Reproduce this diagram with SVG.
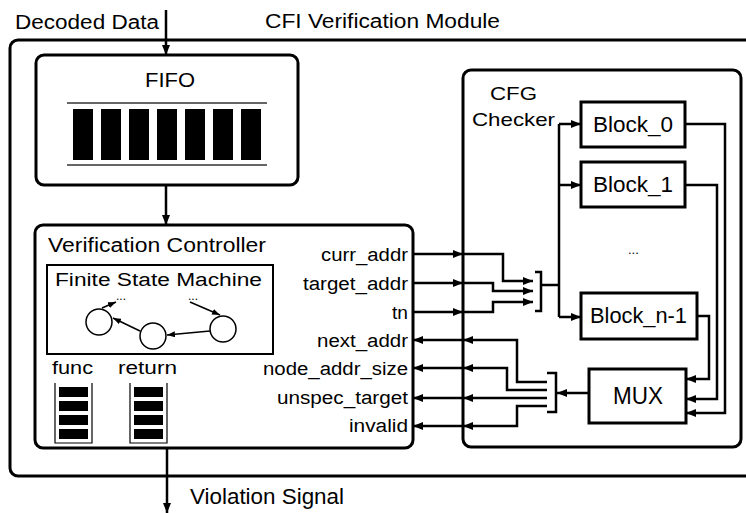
<svg xmlns="http://www.w3.org/2000/svg" width="746" height="513" viewBox="0 0 746 513" font-family="'Liberation Sans', Arial, Helvetica, sans-serif">
  <style>
    text { font-family: "Liberation Sans", Arial, Helvetica, sans-serif; fill: #000; }
    .box { fill: #fff; stroke: #000; stroke-width: 3; }
    .thin { fill: none; stroke: #000; stroke-width: 1.2; }
    .wire { fill: none; stroke: #000; stroke-width: 2.5; }
    .fsm { fill: none; stroke: #000; stroke-width: 1.5; }
    .bar { fill: #000; }
  </style>
  <defs>
    <marker id="arrow" viewBox="0 0 10 8" refX="10" refY="4" markerWidth="10" markerHeight="8" markerUnits="userSpaceOnUse" orient="auto">
      <path d="M0,0 L10,4 L0,8 Z" fill="#000"/>
    </marker>
    <marker id="arrowSmall" viewBox="0 0 8 6" refX="8" refY="3" markerWidth="8" markerHeight="6" markerUnits="userSpaceOnUse" orient="auto">
      <path d="M0,0 L8,3 L0,6 Z" fill="#000"/>
    </marker>
  </defs>

  <!-- CFI Verification Module (outer frame) -->
  <g id="module">
    <rect class="box" x="10" y="40" width="760" height="436" rx="8"/>
    <text x="265" y="28" font-size="20" textLength="235" lengthAdjust="spacingAndGlyphs">CFI Verification Module</text>
  </g>

  <text id="decoded-label" x="15" y="29" font-size="20" textLength="144" lengthAdjust="spacingAndGlyphs">Decoded Data</text>
  <text id="violation-label" x="190" y="504" font-size="22" textLength="154" lengthAdjust="spacingAndGlyphs">Violation Signal</text>

  <!-- FIFO -->
  <g id="fifo">
    <rect class="box" x="36" y="55" width="262" height="130" rx="8"/>
    <text x="145" y="87" font-size="20" textLength="50" lengthAdjust="spacingAndGlyphs">FIFO</text>
    <line x1="67" y1="103" x2="267" y2="103" stroke="#333" stroke-width="1.5"/>
    <line x1="67" y1="165" x2="267" y2="165" stroke="#333" stroke-width="1.5"/>
    <rect class="bar" x="73" y="109" width="20" height="51"/>
    <rect class="bar" x="101" y="109" width="20" height="51"/>
    <rect class="bar" x="129" y="109" width="20" height="51"/>
    <rect class="bar" x="157" y="109" width="20" height="51"/>
    <rect class="bar" x="185" y="109" width="20" height="51"/>
    <rect class="bar" x="213" y="109" width="20" height="51"/>
    <rect class="bar" x="241" y="109" width="20" height="51"/>
  </g>

  <!-- Verification Controller -->
  <g id="controller">
    <rect class="box" x="35" y="225" width="378" height="223" rx="8"/>
    <text x="48" y="252" font-size="20" textLength="218" lengthAdjust="spacingAndGlyphs">Verification Controller</text>
    <text x="321" y="261" font-size="18" textLength="87" lengthAdjust="spacingAndGlyphs">curr_addr</text>
    <text x="303" y="290" font-size="18" textLength="105" lengthAdjust="spacingAndGlyphs">target_addr</text>
    <text x="392" y="319" font-size="18" textLength="16" lengthAdjust="spacingAndGlyphs">tn</text>
    <text x="317" y="347" font-size="18" textLength="91" lengthAdjust="spacingAndGlyphs">next_addr</text>
    <text x="263" y="375" font-size="18" textLength="145" lengthAdjust="spacingAndGlyphs">node_addr_size</text>
    <text x="277" y="404" font-size="18" textLength="131" lengthAdjust="spacingAndGlyphs">unspec_target</text>
    <text x="349" y="432" font-size="18" textLength="59" lengthAdjust="spacingAndGlyphs">invalid</text>
  </g>

  <!-- Finite State Machine -->
  <g id="fsm">
    <rect x="47" y="265" width="226" height="89" fill="#fff" stroke="#000" stroke-width="2"/>
    <text x="55" y="286" font-size="18" textLength="207" lengthAdjust="spacingAndGlyphs">Finite State Machine</text>
    <circle class="fsm" cx="99" cy="322" r="13"/>
    <circle class="fsm" cx="153" cy="336" r="13"/>
    <circle class="fsm" cx="223" cy="329" r="13"/>
    <text x="116" y="300" font-size="12">...</text>
    <text x="188" y="300" font-size="12">...</text>
    <path class="fsm" d="M210,331 L167,335" marker-end="url(#arrowSmall)"/>
    <path class="fsm" d="M140,331 L113,318" marker-end="url(#arrowSmall)"/>
    <path class="fsm" d="M102,308 L116,302" marker-end="url(#arrowSmall)"/>
    <path class="fsm" d="M190,302 L220,315" marker-end="url(#arrowSmall)"/>
  </g>

  <!-- func / return stacks -->
  <g id="func-stack">
    <text x="52" y="374" font-size="18" textLength="41" lengthAdjust="spacingAndGlyphs">func</text>
    <path class="thin" d="M55,383 V443 H92 V383"/>
    <rect class="bar" x="59" y="387" width="29" height="10"/>
    <rect class="bar" x="59" y="401" width="29" height="10"/>
    <rect class="bar" x="59" y="415" width="29" height="10"/>
    <rect class="bar" x="59" y="429" width="29" height="10"/>
  </g>
  <g id="return-stack">
    <text x="118" y="374" font-size="18" textLength="59" lengthAdjust="spacingAndGlyphs">return</text>
    <path class="thin" d="M130,383 V443 H167 V383"/>
    <rect class="bar" x="134" y="387" width="29" height="10"/>
    <rect class="bar" x="134" y="401" width="29" height="10"/>
    <rect class="bar" x="134" y="415" width="29" height="10"/>
    <rect class="bar" x="134" y="429" width="29" height="10"/>
  </g>

  <!-- CFG Checker -->
  <g id="cfg-checker">
    <rect class="box" x="463" y="70" width="278" height="377" rx="8"/>
    <text x="490" y="100" font-size="19" textLength="47" lengthAdjust="spacingAndGlyphs">CFG</text>
    <text x="472" y="126" font-size="19" textLength="83" lengthAdjust="spacingAndGlyphs">Checker</text>
    <text x="628" y="254" font-size="13">...</text>
  </g>
  <g id="block0">
    <rect class="box" x="581" y="102" width="104" height="45"/>
    <text x="593" y="132" font-size="22" textLength="80" lengthAdjust="spacingAndGlyphs">Block_0</text>
  </g>
  <g id="block1">
    <rect class="box" x="581" y="162" width="104" height="45"/>
    <text x="593" y="192" font-size="22" textLength="80" lengthAdjust="spacingAndGlyphs">Block_1</text>
  </g>
  <g id="blockn1">
    <rect class="box" x="581" y="293" width="116" height="46"/>
    <text x="590" y="323" font-size="22" textLength="97" lengthAdjust="spacingAndGlyphs">Block_n-1</text>
  </g>
  <g id="mux">
    <rect class="box" x="589" y="369" width="97" height="54"/>
    <text x="613" y="404" font-size="23" textLength="50" lengthAdjust="spacingAndGlyphs">MUX</text>
  </g>

  <!-- Connectors -->
  <g id="connectors">
    <path class="wire" d="M166,10 V55" marker-end="url(#arrow)"/>
    <path class="wire" d="M166,185 V225" marker-end="url(#arrow)"/>
    <path class="wire" d="M167,448 V513" marker-end="url(#arrow)"/>

    <!-- controller to checker inputs -->
    <path class="wire" d="M413,254 H463" marker-end="url(#arrow)"/>
    <path class="wire" d="M463,254 H503 V281 H533" marker-end="url(#arrow)"/>
    <path class="wire" d="M413,283 H463" marker-end="url(#arrow)"/>
    <path class="wire" d="M463,283 H493 V291 H533" marker-end="url(#arrow)"/>
    <path class="wire" d="M413,312 H463" marker-end="url(#arrow)"/>
    <path class="wire" d="M463,312 H493 V302 H533" marker-end="url(#arrow)"/>
    <path class="wire" d="M535,272 H541 V311 H535"/>
    <path class="wire" d="M541,285 H559"/>
    <path class="wire" d="M559,124 V317"/>
    <path class="wire" d="M559,124 H581" marker-end="url(#arrow)"/>
    <path class="wire" d="M559,185 H581" marker-end="url(#arrow)"/>
    <path class="wire" d="M559,317 H581" marker-end="url(#arrow)"/>

    <!-- blocks to MUX -->
    <path class="wire" d="M685,124 H725 V413 H686" marker-end="url(#arrow)"/>
    <path class="wire" d="M685,185 H717 V399 H686" marker-end="url(#arrow)"/>
    <path class="wire" d="M697,316 H709 V379 H686" marker-end="url(#arrow)"/>

    <!-- MUX outputs back to controller -->
    <path class="wire" d="M589,393 H557" marker-end="url(#arrow)"/>
    <path class="wire" d="M547,373 H556 V412 H547"/>
    <path class="wire" d="M547,382 H517 V340 H463" marker-end="url(#arrow)"/>
    <path class="wire" d="M463,340 H413" marker-end="url(#arrow)"/>
    <path class="wire" d="M547,390 H507 V368 H463" marker-end="url(#arrow)"/>
    <path class="wire" d="M463,368 H413" marker-end="url(#arrow)"/>
    <path class="wire" d="M547,398 H463" marker-end="url(#arrow)"/>
    <path class="wire" d="M463,398 H413" marker-end="url(#arrow)"/>
    <path class="wire" d="M547,406 H517 V426 H463" marker-end="url(#arrow)"/>
    <path class="wire" d="M463,426 H413" marker-end="url(#arrow)"/>
  </g>
</svg>
